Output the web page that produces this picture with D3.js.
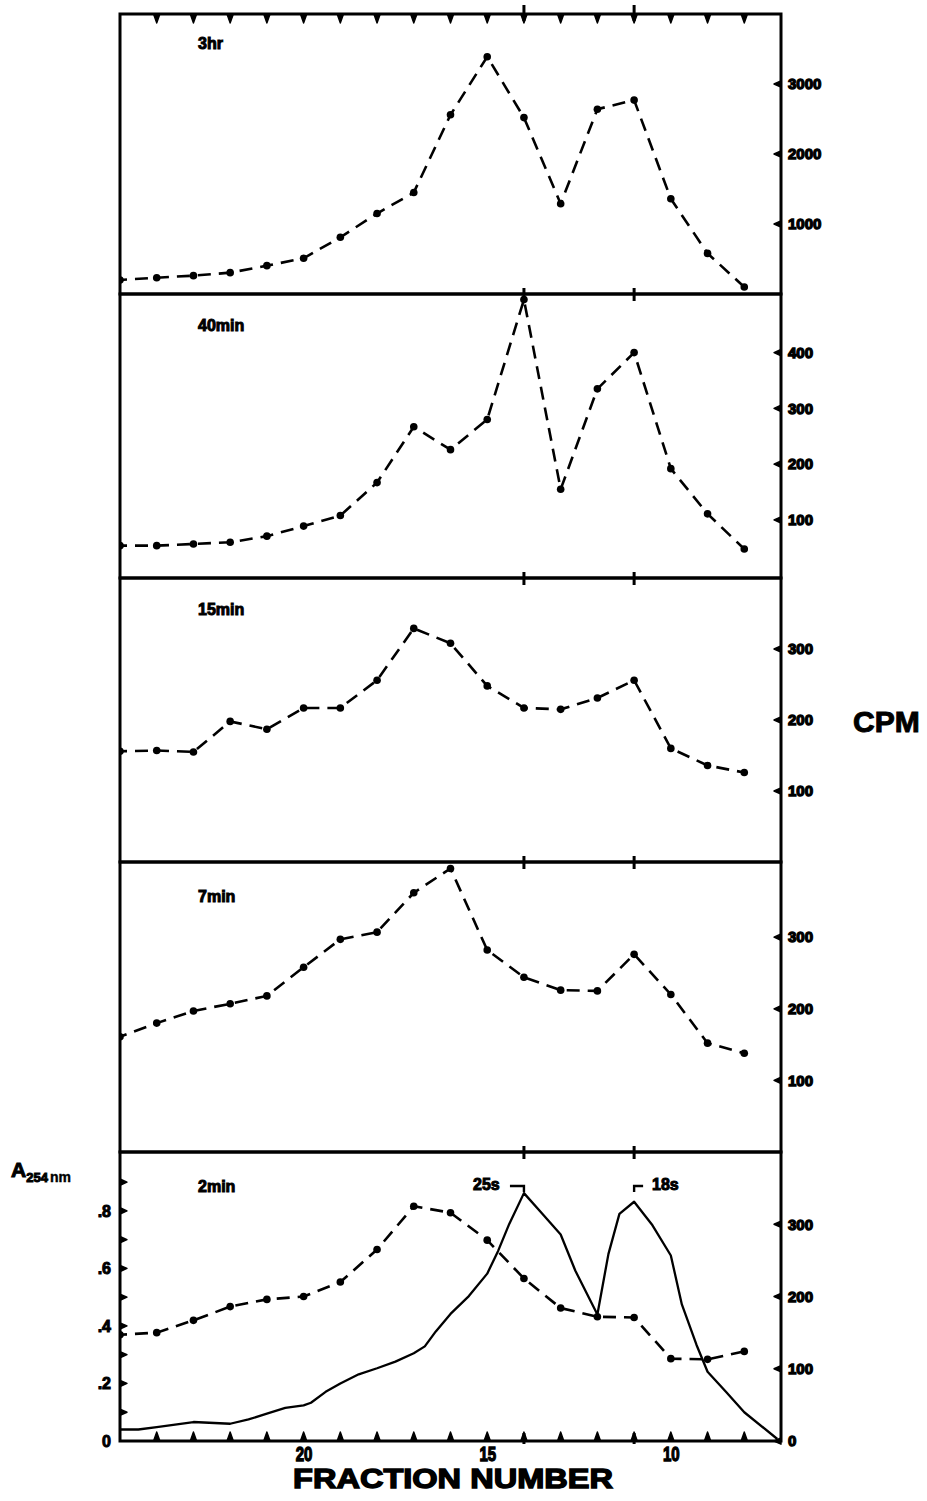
<!DOCTYPE html>
<html>
<head>
<meta charset="utf-8">
<script src="https://cdn.jsdelivr.net/npm/d3@7"></script>
<style>
  html, body { margin: 0; padding: 0; background: #fff; }
  svg { display: block; }
  text { font-family: "Liberation Sans", Arial, sans-serif; font-weight: bold; fill: #000; }
</style>
</head>
<body>
<svg id="chart" width="927" height="1501"></svg>
<script>
// Sucrose gradient fractions (collected from the bottom, numbered high to low)
const fractions = [25, 24, 23, 22, 21, 20, 19, 18, 17, 16, 15, 14, 13, 12, 11, 10, 9, 8];

// Radioactivity (CPM) per fraction at each labelling time
const cpm3hr   = [200, 233, 262, 305, 405, 510, 810, 1150, 1450, 2560, 3390, 2520, 1290, 2640, 2770, 1360, 580, 100];
const cpm40min = [54, 54, 57, 60, 71, 89, 108, 167, 267, 226, 280, 495, 155, 335, 400, 192, 111, 48];
const cpm15min = [156, 157, 155, 198, 187, 217, 217, 256, 329, 308, 248, 217, 215, 231, 256, 160, 136, 126];
const cpm7min  = [161, 180, 197, 207, 218, 258, 297, 307, 362, 396, 282, 244, 226, 225, 276, 220, 152, 138];
const cpm2min  = [147, 150, 167, 186, 196, 200, 220, 265, 325, 316, 278, 225, 184, 172, 171, 114, 113, 124];

// Absorbance trace at 254 nm (continuous recording)
const absFraction = [25, 24.5, 24, 23, 22, 21.5, 21, 20.5, 20, 19.8, 19.4, 19, 18.5, 18, 17.5, 17, 16.7, 16.4, 16,
                     15.5, 15, 14.7, 14.4, 14, 13.5, 13, 12.6, 12, 11.7, 11.4, 11, 10.5, 10, 9.7, 9.3, 9, 8.5, 8, 7.1];
const absValue = [0.04, 0.04, 0.048, 0.066, 0.06, 0.075, 0.095, 0.115, 0.124, 0.133, 0.171, 0.2, 0.232, 0.253, 0.276,
                  0.305, 0.329, 0.381, 0.442, 0.504, 0.582, 0.662, 0.755, 0.862, 0.79, 0.718, 0.592, 0.44, 0.65, 0.79,
                  0.832, 0.75, 0.645, 0.475, 0.334, 0.241, 0.171, 0.1, 0.007];

// Axis tick values
const ticks3hr   = [1000, 2000, 3000];
const ticks40min = [100, 200, 300, 400];
const ticks15min = [100, 200, 300];
const ticks7min  = [100, 200, 300];
const ticks2min  = [0, 100, 200, 300];
const absTicks   = [0, 0.2, 0.4, 0.6, 0.8];
const absMinorTicks = [0.1, 0.2, 0.3, 0.4, 0.5, 0.6, 0.7, 0.8, 0.9];
const fractionLabels = [20, 15, 10];
const markerFractions = [14, 11];   // 25s and 18s peak positions

const panelLabels = ["3hr", "40min", "15min", "7min", "2min"];

const svg = d3.select("#chart");
const left = 120, right = 781;
const FONT = "Liberation Sans, Arial, sans-serif";

const x = d3.scaleLinear().domain([25, 7]).range([left, right]);

const panels = [
  { top: 14,   bottom: 294,  domain: [0, 4000], data: cpm3hr,   ticks: ticks3hr,   labelY: 49 },
  { top: 294,  bottom: 578,  domain: [-4, 505], data: cpm40min, ticks: ticks40min, labelY: 331 },
  { top: 578,  bottom: 862,  domain: [0, 400],  data: cpm15min, ticks: ticks15min, labelY: 615 },
  { top: 862,  bottom: 1152, domain: [0, 405],  data: cpm7min,  ticks: ticks7min,  labelY: 902 },
  { top: 1152, bottom: 1441, domain: [0, 400],  data: cpm2min,  ticks: ticks2min,  labelY: 1192 }
];

// small wedge-shaped tick: base on the frame, point inward
function wedge(sel, px, py, dx, dy, len) {
  const half = 3.2;
  let d;
  if (dx === 0) d = `M${px - half},${py} L${px + half},${py} L${px},${py + dy * len} Z`;
  else d = `M${px},${py - half} L${px},${py + half} L${px + dx * len},${py} Z`;
  sel.append("path").attr("d", d).attr("fill", "#000").attr("stroke", "#000")
    .attr("stroke-width", 1.4).attr("stroke-linejoin", "round");
}

const defs = svg.append("defs");

panels.forEach((p, i) => {
  const y = d3.scaleLinear().domain(p.domain).range([p.bottom, p.top]);
  const g = svg.append("g");

  defs.append("clipPath").attr("id", "clip" + i)
    .append("rect").attr("x", left).attr("y", p.top).attr("width", right - left).attr("height", p.bottom - p.top);

  const plot = g.append("g").attr("clip-path", `url(#clip${i})`);

  // Absorbance trace (2 min panel only)
  if (i === 4) {
    const yA = d3.scaleLinear().domain([0, 1.005]).range([p.bottom, p.top]);
    const absLine = d3.line().x((d, k) => x(absFraction[k])).y(d => yA(d));
    plot.append("path").datum(absValue)
      .attr("d", absLine)
      .attr("fill", "none").attr("stroke", "#000").attr("stroke-width", 2.3)
      .attr("stroke-linejoin", "round");

    // Left absorbance axis: wedge ticks every 0.1, labels every 0.2
    absMinorTicks.forEach(v => wedge(g, left, yA(v), 1, 0, 7));
    const labelAxis = d3.axisLeft(yA).tickValues(absTicks).tickSize(0).tickPadding(9)
      .tickFormat(v => v === 0 ? "0" : "." + Math.round(v * 10));
    svg.append("g").attr("transform", `translate(${left},0)`).call(labelAxis)
      .call(a => a.select(".domain").remove())
      .call(a => a.selectAll("text")
        .attr("font-family", FONT)
        .attr("font-weight", "bold").attr("font-size", 16)
        .attr("stroke", "#000").attr("stroke-width", 1));
  }

  // CPM dashed profile with fraction points
  const cpmLine = d3.line().x((d, k) => x(fractions[k])).y(d => y(d));
  plot.append("path").datum(p.data)
    .attr("d", cpmLine)
    .attr("fill", "none").attr("stroke", "#000").attr("stroke-width", 2.6)
    .attr("stroke-dasharray", "13,8").attr("stroke-dashoffset", 6);
  plot.selectAll("circle.pt").data(p.data).join("circle")
    .attr("class", "pt")
    .attr("cx", (d, k) => x(fractions[k]))
    .attr("cy", d => y(d))
    .attr("r", 3.8).attr("fill", "#000");

  // Right CPM axis: wedge ticks pointing inward, labels outside
  p.ticks.forEach(v => wedge(g, right, y(v), -1, 0, 7));
  const yAxis = d3.axisRight(y).tickValues(p.ticks).tickSize(0).tickPadding(7)
    .tickFormat(d3.format("d"));
  svg.append("g").attr("transform", `translate(${right},0)`).call(yAxis)
    .call(a => a.select(".domain").remove())
    .call(a => a.selectAll("text")
      .attr("font-family", FONT)
      .attr("font-weight", "bold").attr("font-size", 15)
      .attr("stroke", "#000").attr("stroke-width", 1.3));

  // Panel frame
  g.append("rect")
    .attr("x", left).attr("y", p.top).attr("width", right - left).attr("height", p.bottom - p.top)
    .attr("fill", "none").attr("stroke", "#000").attr("stroke-width", 3);

  // Time label
  g.append("text").attr("x", 198).attr("y", p.labelY)
    .attr("font-size", 16).attr("stroke", "#000").attr("stroke-width", 1)
    .text(panelLabels[i]);

  // Peak marker ticks crossing the upper border
  markerFractions.forEach(f => {
    g.append("line")
      .attr("x1", x(f)).attr("x2", x(f))
      .attr("y1", p.top - (i === 0 ? 9 : 6)).attr("y2", p.top + 7)
      .attr("stroke", "#000").attr("stroke-width", 3);
  });
});

// Fraction ticks along the top edge of the top panel and the bottom edge of the last panel
const bottomY = panels[4].bottom;
fractions.slice(1).forEach(f => {
  wedge(svg, x(f), panels[0].top, 0, 1, 9);
  wedge(svg, x(f), bottomY, 0, -1, 9);
});

// Fraction numbers below the bottom edge
const bottomAxis = d3.axisBottom(x).tickValues(fractionLabels).tickSize(0).tickPadding(5)
  .tickFormat(d3.format("d"));
svg.append("g").attr("transform", `translate(0,${bottomY})`).call(bottomAxis)
  .call(a => a.select(".domain").remove())
  .call(a => a.selectAll("text")
    .attr("font-family", FONT)
    .attr("font-weight", "bold").attr("font-size", 15)
    .attr("stroke", "#000").attr("stroke-width", 1)
    .attr("transform", "scale(1,1.3)"));

// Marker ticks on the bottom edge at 25s / 18s
markerFractions.forEach(f => {
  svg.append("line")
    .attr("x1", x(f)).attr("x2", x(f)).attr("y1", bottomY - 8).attr("y2", bottomY + 3)
    .attr("stroke", "#000").attr("stroke-width", 3);
});

// 25s and 18s peak annotations
svg.append("text").attr("x", 473).attr("y", 1190).attr("font-size", 16)
  .attr("stroke", "#000").attr("stroke-width", 1).text("25s");
svg.append("path").attr("d", `M${x(14) - 14},1186 H${x(14)} V1192`)
  .attr("fill", "none").attr("stroke", "#000").attr("stroke-width", 2.4);
svg.append("text").attr("x", 652).attr("y", 1190).attr("font-size", 16)
  .attr("stroke", "#000").attr("stroke-width", 1).text("18s");
svg.append("path").attr("d", `M${x(11) + 9},1186 H${x(11)} V1192`)
  .attr("fill", "none").attr("stroke", "#000").attr("stroke-width", 2.4);

// Axis titles
const aTitle = svg.append("text").attr("x", 11).attr("y", 1177)
  .attr("stroke", "#000").attr("stroke-width", 1);
aTitle.append("tspan").attr("font-size", 21).text("A");
aTitle.append("tspan").attr("font-size", 13).attr("dy", 5).text("254");
aTitle.append("tspan").attr("font-size", 14).attr("dx", 2).attr("stroke-width", 0.4).text("nm");

svg.append("text").attr("x", 853).attr("y", 732).attr("font-size", 30)
  .attr("stroke", "#000").attr("stroke-width", 1).text("CPM");

svg.append("text").attr("x", 293).attr("y", 1488).attr("font-size", 28)
  .attr("textLength", 320).attr("lengthAdjust", "spacingAndGlyphs")
  .attr("stroke", "#000").attr("stroke-width", 1.4)
  .text("FRACTION NUMBER");
</script>
</body>
</html>
